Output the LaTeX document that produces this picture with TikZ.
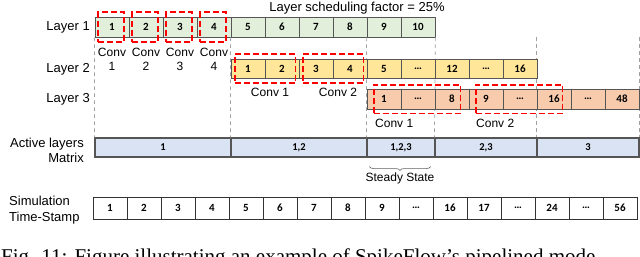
\documentclass[tikz,border=0pt]{standalone}
\usepackage{fontspec}
\setmainfont{Liberation Sans}
\newfontfamily\cellfont{Carlito}
\newfontfamily\capfont{Liberation Serif}
\usepackage{tikz}
\usetikzlibrary{positioning,fit,decorations.pathreplacing}
\usepackage{xcolor}

\definecolor{layerone}{HTML}{E2EFDA}
\definecolor{layertwo}{HTML}{FFE699}
\definecolor{layerthree}{HTML}{F8CBAD}
\definecolor{activebg}{HTML}{DAE3F3}
\definecolor{cellline}{HTML}{555555}
\definecolor{guideline}{HTML}{A0A0A0}

\begin{document}
\begin{tikzpicture}[x=1pt, y=-1pt,
  cell/.style={draw=cellline, line width=0.8pt, minimum width=34pt, minimum height=20pt,
    inner sep=0pt, font=\cellfont\bfseries\fontsize{11}{12}\selectfont},
  mcell/.style={draw=cellline, line width=1.1pt, fill=activebg, minimum height=19pt,
    inner sep=0pt, font=\cellfont\bfseries\fontsize{10.5}{12}\selectfont},
  convbox/.style={draw=red, line width=1.8pt, dash pattern=on 6pt off 3pt, inner sep=0pt},
  rowlabel/.style={font=\fontsize{13}{15}\selectfont, inner sep=0pt},
  convlabel/.style={font=\fontsize{12}{13.5}\selectfont, inner sep=0pt},
  guide/.style={draw=guideline, line width=0.7pt, dash pattern=on 3.5pt off 3.5pt}]
  \useasboundingbox (0,0) rectangle (640,257);
  \clip (0,0) rectangle (640,257);

  %% Header and row labels
  \node[rowlabel] (factor) at (357,8) {Layer scheduling factor = 25\%};
  \node[rowlabel, anchor=east] (lab1) at (90,27) {Layer 1};
  \node[rowlabel, anchor=east] (lab2) at (90,69) {Layer 2};
  \node[rowlabel, anchor=east] (lab3) at (90,99) {Layer 3};
  \node[rowlabel, anchor=east, align=right] (labm) at (84,150) {Active layers\\Matrix};
  \node[rowlabel, anchor=west, align=left, font=\fontsize{13}{16}\selectfont] (labt) at (9,210) {Simulation\\Time-Stamp};

  %% Active layers matrix (drawn first so the guides can end on it)
  \node[mcell, minimum width=136pt] (m1) at (163,147.5) {1};
  \node[mcell, minimum width=136pt] (m2) at (299,147.5) {1,2};
  \node[mcell, minimum width=68pt]  (m3) at (401,147.5) {1,2,3};
  \node[mcell, minimum width=102pt] (m4) at (486,147.5) {2,3};
  \node[mcell, minimum width=102pt] (m5) at (588,147.5) {3};

  %% Layer 1
  \foreach \t [count=\i] in {1,2,3,4,5,6,7,8,9,10}
    \node[cell, fill=layerone] (l1c\i) at ({78+34*\i},27) {\t};

  %% Guides
  \draw[guide] (l1c1.south west) -- (m1.north west);
  \draw[guide] (l1c5.south west) -- (m2.north west);
  \draw[guide] (l1c9.south west) -- (m3.north west);
  \draw[guide] (l1c10.south east) -- (m4.north west);
  \draw[guide] (m5.north west |- l1c1.south) -- (m5.north west);
  \draw[guide] (m5.north east |- l1c1.south) -- (m5.north east);

  %% Layer 2
  \foreach \t [count=\i] in {1,2,3,4,5,\dots,12,\dots,16}
    \node[cell, fill=layertwo, minimum height=19pt] (l2c\i) at ({214+34*\i},68.5) {\t};

  %% Layer 3
  \foreach \t [count=\i] in {1,\dots,8,9,\dots,16,\dots,48}
    \node[cell, fill=layerthree] (l3c\i) at ({350+34*\i},99) {\t};

  %% Conv windows, layer 1
  \foreach \i in {1,2,3,4} {
    \node[convbox, fit=(l1c\i), inner xsep=-4.5pt, inner ysep=4.5pt, xshift=-1pt] (r1c\i) {};
    \node[convlabel, align=center] (conv1\i) at ({78+34*\i},59.5) {Conv\\\i};
  }

  %% Conv windows, layer 2
  \node[convbox, fit=(l2c1)(l2c2), inner xsep=-4pt, inner ysep=4.5pt] (r2a) {};
  \node[convbox, fit=(l2c3)(l2c4), inner xsep=-4pt, inner ysep=4.5pt] (r2b) {};
  \node[convlabel] (conv2a) at (270,92) {Conv 1};
  \node[convlabel] (conv2b) at (338,92) {Conv 2};

  %% Conv windows, layer 3
  \node[convbox, fit=(l3c1)(l3c3), inner xsep=-8pt, inner ysep=4pt, xshift=-1pt] (r3a) {};
  \node[convbox, fit=(l3c4)(l3c6), inner xsep=-8pt, inner ysep=4pt, xshift=-1pt] (r3b) {};
  \node[convlabel, anchor=west] (conv3a) at (375,123) {Conv 1};
  \node[convlabel, anchor=west] (conv3b) at (476,123) {Conv 2};

  %% Steady state
  \draw[guideline!60!black, line width=0.6pt, decorate, decoration={brace, mirror, amplitude=4pt}]
    ([xshift=3pt,yshift=-9pt]m3.south west) -- ([xshift=-5pt,yshift=-9pt]m3.south east)
    node[midway, below=6pt, convlabel, text=black] (steady) {Steady State};

  %% Simulation time-stamp
  \foreach \t [count=\i] in {1,2,3,4,5,6,7,8,9,\dots,16,17,\dots,24,\dots,56}
    \node[cell, fill=white, draw=black!80, minimum height=22pt] (ts\i) at ({76+34*\i},208) {\t};

  %% Caption (cut by the page edge, as in the reference)
  \node[anchor=base west, inner sep=0pt, font=\capfont\fontsize{21}{24}\selectfont] (caption)
    at (1,263) {Fig. 11: Figure illustrating an example of SpikeFlow’s pipelined mode};
\end{tikzpicture}
\end{document}
